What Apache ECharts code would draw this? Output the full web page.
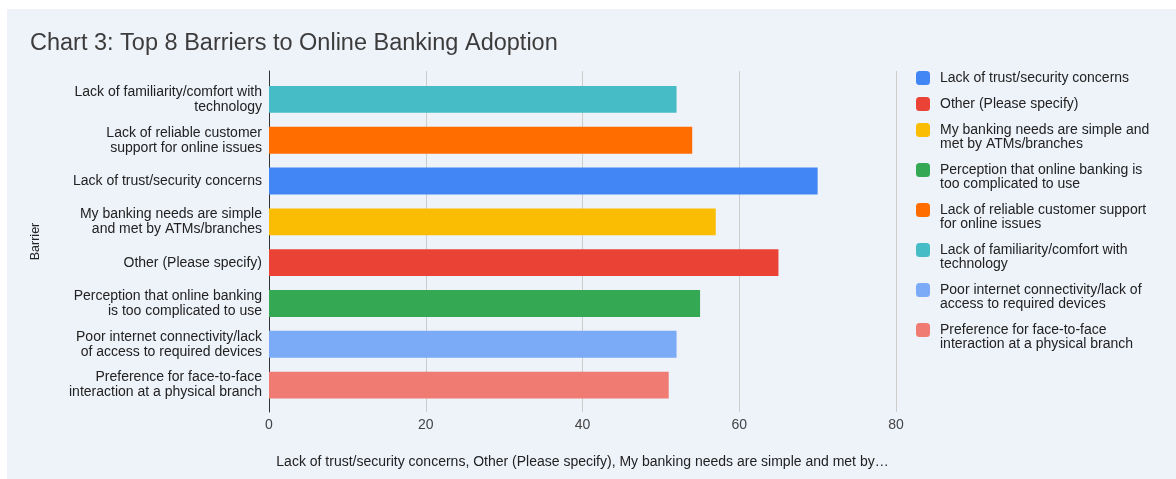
<!DOCTYPE html>
<html>
<head>
<meta charset="utf-8">
<script src="https://cdn.jsdelivr.net/npm/echarts@6/dist/echarts.min.js"></script>
<style>
  html, body { margin: 0; padding: 0; background: #ffffff; }
  #panel { position: absolute; left: 7px; top: 9px; width: 1169px; height: 470px; background: #eef2f9; }
  #chart { position: absolute; left: 0; top: 0; width: 1176px; height: 479px; }
</style>
</head>
<body>
<div id="panel"></div>
<div id="chart"></div>
<script>
// ---- data ----
const titleText = 'Chart 3: Top 8 Barriers to Online Banking Adoption';
const categories = [
  'Lack of familiarity/comfort with technology',
  'Lack of reliable customer support for online issues',
  'Lack of trust/security concerns',
  'My banking needs are simple and met by ATMs/branches',
  'Other (Please specify)',
  'Perception that online banking is too complicated to use',
  'Poor internet connectivity/lack of access to required devices',
  'Preference for face-to-face interaction at a physical branch'
];
const values = [52, 54, 70, 57, 65, 55, 52, 51];
const axisLabelText = [
  'Lack of familiarity/comfort with\ntechnology',
  'Lack of reliable customer\nsupport for online issues',
  'Lack of trust/security concerns',
  'My banking needs are simple\nand met by ATMs/branches',
  'Other (Please specify)',
  'Perception that online banking\nis too complicated to use',
  'Poor internet connectivity/lack\nof access to required devices',
  'Preference for face-to-face\ninteraction at a physical branch'
];
const legendOrder = [2, 4, 3, 5, 1, 0, 6, 7];
const legendText = [
  'Lack of familiarity/comfort with\ntechnology',
  'Lack of reliable customer support\nfor online issues',
  'Lack of trust/security concerns',
  'My banking needs are simple and\nmet by ATMs/branches',
  'Other (Please specify)',
  'Perception that online banking is\ntoo complicated to use',
  'Poor internet connectivity/lack of\naccess to required devices',
  'Preference for face-to-face\ninteraction at a physical branch'
];
const colors = ['#46bdc6', '#ff6d01', '#4285f4', '#fbbc04', '#ea4335', '#34a853', '#7baaf7', '#f07b72'];
const xTicks = { min: 0, max: 80, interval: 20 };
const xAxisTitle = 'Lack of trust/security concerns, Other (Please specify), My banking needs are simple and met by\u2026';
const yAxisTitle = 'Barrier';

// ---- chart ----
const FONT = '"Liberation Sans", Arial, Helvetica, sans-serif';
const chart = echarts.init(document.getElementById('chart'), null, { renderer: 'canvas' });

const seriesList = legendOrder.map(function (ci) {
  return {
    name: categories[ci],
    type: 'bar',
    stack: 'all',
    xAxisIndex: 1,
    yAxisIndex: 1,
    barWidth: '66%',
    itemStyle: { color: colors[ci] },
    emphasis: { disabled: true },
    data: categories.map(function (c, j) { return j === ci ? values[ci] : null; })
  };
});

// legend: one component per item so multi-line entries align icon with first line
const LH = 14;
const legends = [];
let iconTop = 71;
legendOrder.forEach(function (ci) {
  const txt = legendText[ci];
  const multi = txt.indexOf('\n') >= 0;
  legends.push({
    left: 916,
    top: multi ? iconTop - LH : iconTop,
    orient: 'vertical',
    padding: 0,
    itemWidth: 14,
    itemHeight: 14,
    icon: 'roundRect',
    selectedMode: false,
    data: [categories[ci]],
    formatter: function () { return multi ? ' \n' + txt : txt; },
    textStyle: {
      fontFamily: FONT, fontSize: 14, color: '#222222', lineHeight: LH,
      padding: [0, 0, 0, 5]
    }
  });
  iconTop += multi ? 40 : 26;
});

chart.setOption({
  animation: false,
  textStyle: { fontFamily: FONT },
  title: {
    text: titleText,
    left: 30,
    top: 32,
    padding: 0,
    textStyle: { fontFamily: FONT, fontSize: 23.5, fontWeight: 'normal', color: '#3c3c3c' }
  },
  legend: legends,
  grid: [
    { left: 269, top: 71, width: 627, height: 341 },
    { left: 269, top: 79, width: 627, height: 326.5 }
  ],
  xAxis: [
    {
      gridIndex: 0, type: 'value', min: xTicks.min, max: xTicks.max, interval: xTicks.interval,
      axisLine: { show: false }, axisTick: { show: false },
      splitLine: { show: true, lineStyle: { color: '#cccccc', width: 1 } },
      axisLabel: { fontFamily: FONT, fontSize: 14, color: '#444444', margin: 6 },
      name: xAxisTitle, nameLocation: 'middle', nameGap: 43,
      nameTextStyle: { fontFamily: FONT, fontSize: 14, color: '#222222' }
    },
    {
      gridIndex: 1, type: 'value', min: xTicks.min, max: xTicks.max, interval: xTicks.interval,
      show: false
    }
  ],
  yAxis: [
    {
      gridIndex: 0, type: 'value', min: 0, max: 1,
      axisLine: { show: true, lineStyle: { color: '#333333', width: 1 } },
      axisTick: { show: false }, axisLabel: { show: false }, splitLine: { show: false },
      name: yAxisTitle, nameLocation: 'middle', nameGap: 227, nameRotate: 90,
      nameTextStyle: { fontFamily: FONT, fontSize: 12.5, color: '#222222' }
    },
    {
      gridIndex: 1, type: 'category', inverse: true, data: categories,
      axisLine: { show: false }, axisTick: { show: false },
      axisLabel: {
        fontFamily: FONT, fontSize: 14, color: '#222222', lineHeight: 15, margin: 7,
        formatter: function (v, i) { return axisLabelText[i]; }
      }
    }
  ],
  series: seriesList
});
</script>
</body>
</html>
